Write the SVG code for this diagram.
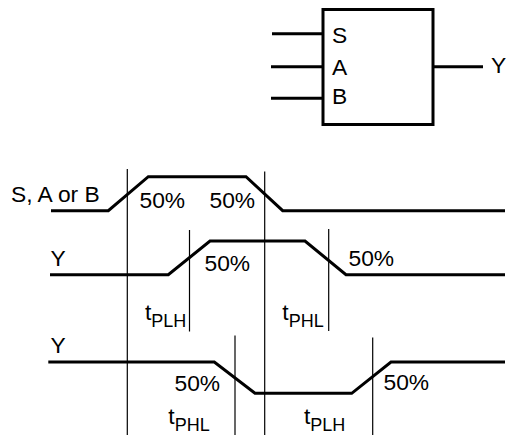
<svg xmlns="http://www.w3.org/2000/svg" width="506" height="435" viewBox="0 0 506 435">
<style>
text{font-family:"Liberation Sans",Arial,sans-serif;font-size:22.8px;fill:#000}
.sub{font-size:18px}
.w{fill:none;stroke:#000;stroke-width:3;stroke-linejoin:miter}
.g{stroke:#000;stroke-width:1.2;fill:none}
</style>
<rect width="506" height="435" fill="#fff"/>
<g id="block">
<rect x="323" y="9.5" width="110" height="115" fill="none" stroke="#000" stroke-width="3"/>
<text x="332" y="42.5">S</text>
<text x="332" y="75">A</text>
<text x="332" y="103.5">B</text>
</g>
<g id="pins">
<line class="w" x1="272" y1="33.7" x2="323" y2="33.7"/>
<line class="w" x1="271" y1="66.7" x2="323" y2="66.7"/>
<line class="w" x1="271" y1="98.3" x2="323" y2="98.3"/>
<line class="w" x1="433" y1="66.7" x2="483" y2="66.7"/>
<text x="491" y="73">Y</text>
</g>
<g id="guides">
<line class="g" x1="127.3" y1="169" x2="127.3" y2="435"/>
<line class="g" x1="264.7" y1="171.5" x2="264.7" y2="435"/>
<line class="g" x1="189.5" y1="230" x2="189.5" y2="331.5"/>
<line class="g" x1="328.7" y1="229" x2="328.7" y2="331"/>
<line class="g" x1="235" y1="335.5" x2="235" y2="435"/>
<line class="g" x1="372.7" y1="337.5" x2="372.7" y2="435"/>
</g>
<g id="waveforms">
<polyline class="w" points="51,210.7 108.3,210.7 148.3,176.7 246,176.7 282.7,210.7 505,210.7"/>
<polyline class="w" points="50,274.7 168.3,274.7 210,241 305,241 346,274.7 505,274.7"/>
<polyline class="w" points="48.3,362 214.3,362 255,393.3 351.7,393.3 391,362 505,362"/>
</g>
<g id="labels">
<text x="11" y="201.5">S, A or B</text>
<text x="50.5" y="266">Y</text>
<text x="50.5" y="353.3">Y</text>
<text x="139.5" y="207.7">50%</text>
<text x="209.5" y="207.7">50%</text>
<text x="204.5" y="271">50%</text>
<text x="348.5" y="266">50%</text>
<text x="174.5" y="390.5">50%</text>
<text x="383.5" y="390">50%</text>
<text x="145" y="320">t<tspan class="sub" dy="7">PLH</tspan></text>
<text x="282.3" y="320">t<tspan class="sub" dy="7">PHL</tspan></text>
<text x="168.3" y="424">t<tspan class="sub" dy="7">PHL</tspan></text>
<text x="304" y="424">t<tspan class="sub" dy="7">PLH</tspan></text>
</g>
</svg>
